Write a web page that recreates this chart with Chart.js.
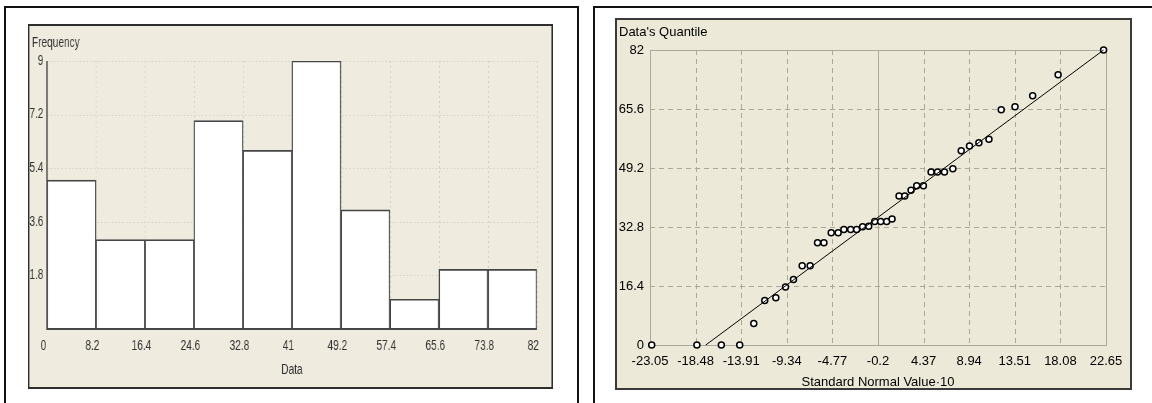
<!DOCTYPE html>
<html>
<head>
<meta charset="utf-8">
<script src="https://cdn.jsdelivr.net/npm/chart.js@4.4.1/dist/chart.umd.min.js"></script>
<style>
  html, body { margin: 0; padding: 0; background: #fff; width: 1152px; height: 403px; overflow: hidden; }
  .box { position: absolute; border: 2px solid #111; border-bottom: none; box-sizing: border-box; }
  #boxL { left: 4px; top: 6px; width: 575px; height: 400px; }
  #boxR { left: 593px; top: 6px; width: 600px; height: 400px; }
  canvas { position: absolute; }
  /* the histogram is drawn wide and narrowed horizontally, like a condensed screen capture */
  #hist { left: 28px; top: 24px; transform: scaleX(0.72); transform-origin: 0 0; filter: blur(0.45px); }
  #qq { left: 615px; top: 18px; }
</style>
</head>
<body>
<div class="box" id="boxL"></div>
<div class="box" id="boxR"></div>
<canvas id="hist" width="729" height="365"></canvas>
<canvas id="qq" width="517" height="372"></canvas>
<script>
// Histogram: bin edges, counts per bin, frequency ticks
const histEdges = [0, 8.2, 16.4, 24.6, 32.8, 41, 49.2, 57.4, 65.6, 73.8, 82];
const histEdgeLabels = ['0', '8.2', '16.4', '24.6', '32.8', '41', '49.2', '57.4', '65.6', '73.8', '82'];
const binCounts = [5, 3, 3, 7, 6, 9, 4, 1, 2, 2];
const freqTicks = [1.8, 3.6, 5.4, 7.2, 9];
const freqLabels = ['1.8', '3.6', '5.4', '7.2', '9'];

// Normal probability plot: theoretical quantile (x10) vs sorted sample
const qqTheoretical = [-22.88, -18.35, -15.90, -14.06, -12.65, -11.55, -10.44, -9.47, -8.67, -7.80,
  -7.00, -6.26, -5.62, -4.89, -4.19, -3.62, -2.94, -2.34, -1.74, -1.13,
  -0.53, 0.07, 0.67, 1.21, 1.91, 2.48, 3.11, 3.68, 4.35, 5.12,
  5.76, 6.46, 7.30, 8.14, 8.97, 9.91, 10.92, 12.15, 13.53, 15.30,
  17.85, 22.41];
const qqSample = [0, 0, 0, 0, 6.0, 12.4, 13.1, 16.1, 18.2, 22.0,
  22.0, 28.4, 28.4, 31.2, 31.2, 32.1, 32.1, 32.1, 32.9, 33.0,
  34.3, 34.3, 34.3, 35.0, 41.4, 41.4, 43.0, 44.3, 44.3, 48.1,
  48.1, 48.1, 49.0, 54.0, 55.3, 56.2, 57.2, 65.4, 66.2, 69.3,
  75.1, 82];
const qqLineX = [-17.46, 22.41];
const qqLineY = [0, 82];
const qqXTicks = [-23.05, -18.48, -13.91, -9.34, -4.77, -0.2, 4.37, 8.94, 13.51, 18.08, 22.65];
const qqXLabels = ['-23.05', '-18.48', '-13.91', '-9.34', '-4.77', '-0.2', '4.37', '8.94', '13.51', '18.08', '22.65'];
const qqYTicks = [0, 16.4, 32.8, 49.2, 65.6, 82];
const qqYLabels = ['0', '16.4', '32.8', '49.2', '65.6', '82'];

const plain = '"Liberation Sans", Arial, sans-serif';
const SQ = 0.72; // horizontal narrowing of the histogram canvas

function panelFrame(bg, border) {
  return {
    id: 'panelFrame',
    beforeDraw(chart) {
      const { ctx, width, height } = chart;
      ctx.save();
      ctx.fillStyle = bg;
      ctx.fillRect(0, 0, width, height);
      ctx.strokeStyle = border;
      ctx.lineWidth = 2;
      ctx.strokeRect(1, 1, width - 2, height - 2);
      ctx.restore();
    }
  };
}

// ---------- Histogram ----------
const histBars = binCounts.map((c, i) => ({ x: (histEdges[i] + histEdges[i + 1]) / 2, y: c }));

const histDecor = {
  id: 'histDecor',
  beforeDatasetsDraw(chart) {
    const { ctx, chartArea: a, scales: { x, y } } = chart;
    ctx.save();
    ctx.strokeStyle = '#d3d0c2';
    ctx.lineWidth = 1;
    ctx.setLineDash([2, 3]);
    freqTicks.forEach(v => {
      const py = Math.round(y.getPixelForValue(v)) + 0.5;
      ctx.beginPath(); ctx.moveTo(a.left, py); ctx.lineTo(a.right, py); ctx.stroke();
    });
    histEdges.slice(1).forEach(v => {
      const px = Math.round(x.getPixelForValue(v)) + 0.5;
      ctx.beginPath(); ctx.moveTo(px, a.top); ctx.lineTo(px, a.bottom); ctx.stroke();
    });
    ctx.restore();
  },
  afterDatasetsDraw(chart) {
    const { ctx, chartArea: a } = chart;
    ctx.save();
    ctx.strokeStyle = '#454545';
    ctx.lineWidth = 2;
    ctx.beginPath();
    ctx.moveTo(a.left, a.top);
    ctx.lineTo(a.left, a.bottom);
    ctx.lineTo(a.right, a.bottom);
    ctx.stroke();
    ctx.fillStyle = '#333';
    ctx.font = '14px ' + plain;
    ctx.textBaseline = 'middle';
    ctx.textAlign = 'left';
    ctx.fillText('Frequency', a.left - 15 / SQ, a.top - 18);
    ctx.restore();
  }
};

new Chart(document.getElementById('hist'), {
  type: 'bar',
  data: {
    datasets: [{
      data: histBars,
      backgroundColor: '#ffffff',
      borderColor: '#454545',
      borderWidth: 1.7,
      barPercentage: 1,
      categoryPercentage: 1
    }]
  },
  options: {
    responsive: false,
    animation: false,
    devicePixelRatio: 1,
    layout: { padding: { left: 0, top: 37, right: 16 / SQ, bottom: 0 } },
    plugins: { legend: { display: false }, tooltip: { enabled: false } },
    scales: {
      x: {
        type: 'linear',
        min: 0, max: 82,
        offset: false,
        grid: { display: false, drawTicks: false, offset: false },
        border: { display: false },
        afterBuildTicks(s) { s.ticks = histEdges.map(v => ({ value: v })); },
        afterFit(s) { s.height = 60; },
        ticks: {
          autoSkip: false, maxRotation: 0, minRotation: 0,
          padding: 9, labelOffset: -5,
          color: '#333', font: { family: plain, size: 14 },
          callback: (v, i) => histEdgeLabels[i]
        },
        title: {
          display: true, text: 'Data', color: '#333',
          font: { family: plain, size: 14 },
          padding: { top: 0, bottom: 10 }
        }
      },
      y: {
        type: 'linear',
        min: 0, max: 9,
        grid: { display: false, drawTicks: false },
        border: { display: false },
        afterBuildTicks(s) { s.ticks = freqTicks.map(v => ({ value: v })); },
        afterFit(s) { s.width = 19 / SQ; },
        ticks: {
          padding: 5,
          color: '#333', font: { family: plain, size: 14 },
          callback: (v, i) => freqLabels[i]
        }
      }
    }
  },
  plugins: [panelFrame('#efecdf', '#2e2e2e'), histDecor]
});

// ---------- Normal probability plot ----------
const qqPoints = qqTheoretical.map((t, i) => ({ x: t, y: qqSample[i] }));
const qqLine = qqLineX.map((t, i) => ({ x: t, y: qqLineY[i] }));

const qqDecor = {
  id: 'qqDecor',
  beforeDatasetsDraw(chart) {
    const { ctx, chartArea: a, scales: { x, y } } = chart;
    ctx.save();
    ctx.strokeStyle = '#aca899';
    ctx.lineWidth = 1;
    qqXTicks.forEach((v, i) => {
      if (i === 0 || i === qqXTicks.length - 1) return;
      const px = Math.round(x.getPixelForValue(v)) + 0.5;
      ctx.setLineDash(i === 5 ? [] : [5, 4]);
      ctx.beginPath(); ctx.moveTo(px, a.top); ctx.lineTo(px, a.bottom); ctx.stroke();
    });
    ctx.setLineDash([5, 4]);
    qqYTicks.forEach((v, i) => {
      if (i === 0 || i === qqYTicks.length - 1) return;
      const py = Math.round(y.getPixelForValue(v)) + 0.5;
      ctx.beginPath(); ctx.moveTo(a.left, py); ctx.lineTo(a.right, py); ctx.stroke();
    });
    ctx.setLineDash([]);
    ctx.strokeRect(Math.round(a.left) + 0.5, Math.round(a.top) + 0.5,
      Math.round(a.right - a.left), Math.round(a.bottom - a.top));
    ctx.fillStyle = '#000';
    ctx.font = '13px ' + plain;
    ctx.textBaseline = 'middle';
    ctx.textAlign = 'left';
    ctx.fillText("Data's Quantile", a.left - 31, a.top - 18);
    ctx.restore();
  }
};

new Chart(document.getElementById('qq'), {
  type: 'scatter',
  data: {
    datasets: [
      {
        type: 'line',
        data: qqLine,
        borderColor: '#000',
        borderWidth: 1,
        pointRadius: 0,
        fill: false,
        clip: false,
        order: 0
      },
      {
        data: qqPoints,
        pointRadius: 3,
        pointBorderWidth: 1.5,
        pointBackgroundColor: '#ffffff',
        pointBorderColor: '#000000',
        clip: false,
        order: 1
      }
    ]
  },
  options: {
    responsive: false,
    animation: false,
    devicePixelRatio: 1,
    layout: { padding: { left: 0, top: 32, right: 26, bottom: 0 } },
    plugins: { legend: { display: false }, tooltip: { enabled: false } },
    scales: {
      x: {
        type: 'linear',
        min: -23.05, max: 22.65,
        grid: { display: false, drawTicks: false },
        border: { display: false },
        afterBuildTicks(s) { s.ticks = qqXTicks.map(v => ({ value: v })); },
        afterFit(s) { s.height = 45; },
        ticks: {
          autoSkip: false, maxRotation: 0, minRotation: 0,
          padding: 9,
          color: '#000', font: { family: plain, size: 13 },
          callback: (v, i) => qqXLabels[i]
        },
        title: {
          display: true, text: 'Standard Normal Value\u00b710', color: '#000',
          font: { family: plain, size: 13 },
          padding: { top: 0, bottom: 0 }
        }
      },
      y: {
        type: 'linear',
        min: 0, max: 82,
        grid: { display: false, drawTicks: false },
        border: { display: false },
        afterBuildTicks(s) { s.ticks = qqYTicks.map(v => ({ value: v })); },
        afterFit(s) { s.width = 35; },
        ticks: {
          padding: 6,
          color: '#000', font: { family: plain, size: 13 },
          callback: (v, i) => qqYLabels[i]
        }
      }
    }
  },
  plugins: [panelFrame('#ece9d8', '#3a3a3a'), qqDecor]
});
</script>
</body>
</html>
